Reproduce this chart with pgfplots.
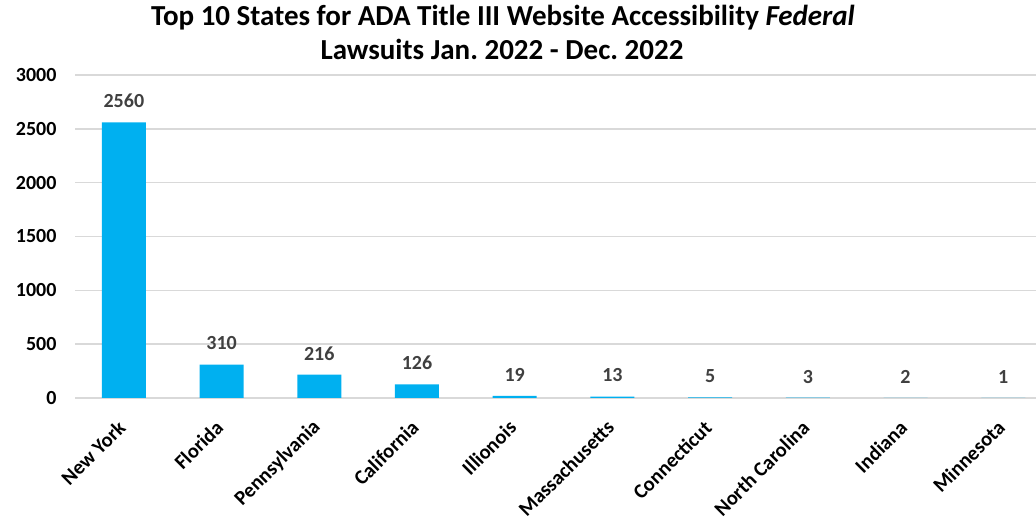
\documentclass[border=0pt]{standalone}
\usepackage{pgfplots}
\pgfplotsset{compat=1.18}
\usepackage{fontspec}
\setmainfont{Carlito}
\frenchspacing
\definecolor{barblue}{HTML}{00B0F0}
\definecolor{gridgray}{HTML}{D9D9D9}
\definecolor{lblgray}{HTML}{404040}
\begin{document}
\begin{tikzpicture}
\path[use as bounding box] (0,0) rectangle (1036pt,519pt);
\node[anchor=base,font=\fontsize{29}{34}\selectfont\bfseries] at (503pt,493pt) {Top 10 States for ADA Title III Website Accessibility \textit{Federal}};
\node[anchor=base,font=\fontsize{29}{34}\selectfont\bfseries] at (502pt,459pt) {Lawsuits Jan. 2022 - Dec. 2022};
\begin{axis}[
  at={(75pt,121pt)}, anchor=south west,
  scale only axis, width=961pt, height=323pt,
  xmin=-0.5, xmax=9.335, ymin=0, ymax=3000,
  ytick={0,500,...,3000},
  xtick={0,...,9},
  xticklabels={New York,Florida,Pennsylvania,California,Illionois,Massachusetts,Connecticut,North Carolina,Indiana,Minnesota},
  x tick label style={yshift=-26pt, xshift=-2pt, rotate=45, anchor=east, font=\fontsize{20.5}{24}\selectfont\bfseries, inner sep=0pt},
  y tick label style={font=\fontsize{20}{24}\selectfont\bfseries, xshift=-15pt},
  /pgf/number format/assume math mode=true,
  /pgf/number format/1000 sep={},
  axis line style={draw=none},
  major tick length=0pt,
  ymajorgrids, grid style={gridgray, line width=1.6pt},
  ybar, bar width=44pt,
  nodes near coords,
  every node near coord/.append style={font=\fontsize{20}{24}\selectfont\bfseries, text=lblgray, yshift=11pt},
  clip=false,
]
\addplot[fill=barblue, draw=none] coordinates {(0,2560) (1,310) (2,216) (3,126) (4,19) (5,13) (6,5) (7,3) (8,2) (9,1)};
\end{axis}
\end{tikzpicture}
\end{document}
